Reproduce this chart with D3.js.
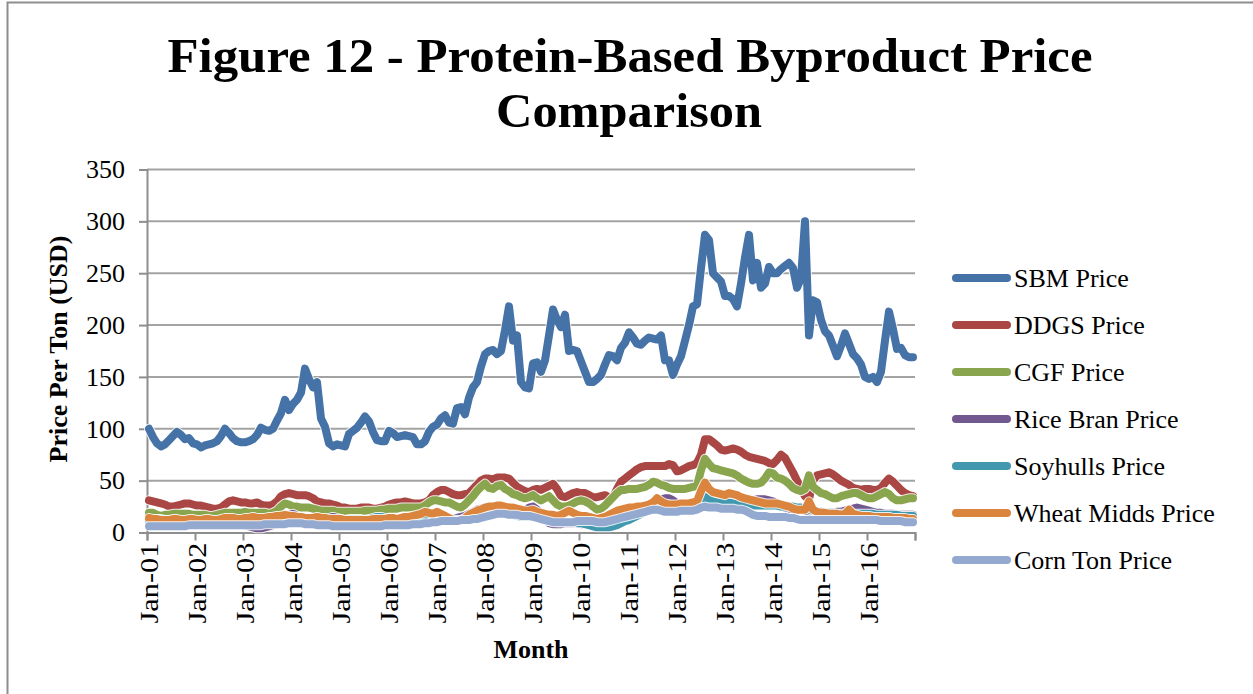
<!DOCTYPE html>
<html>
<head>
<meta charset="utf-8">
<script src="https://cdn.jsdelivr.net/npm/d3@7"></script>
<style>
  body { margin: 0; background: #fff; }
  text { font-family: "Liberation Serif", "Times New Roman", serif; fill: #000; }
</style>
</head>
<body>
<div id="chart"></div>
<script>
const w = 1253;
const h = 694;

// categorias: un mes por punto, ene-2001 a dic-2016
const months = d3.timeMonth.range(new Date(2001, 0, 1), new Date(2017, 0, 1));
const yearLabels = ["Jan-01", "Jan-02", "Jan-03", "Jan-04", "Jan-05", "Jan-06", "Jan-07", "Jan-08",
  "Jan-09", "Jan-10", "Jan-11", "Jan-12", "Jan-13", "Jan-14", "Jan-15", "Jan-16"];
const yTicks = [0, 50, 100, 150, 200, 250, 300, 350];

// series (USD por tonelada)
const sbm = [
  100, 92, 86, 83, 85, 89, 93, 97, 94, 90, 91, 86,
  85, 82, 84, 85, 86, 88, 93, 100, 96, 91, 88, 87,
  87, 88, 90, 94, 101, 99, 98, 100, 108, 115, 128, 118,
  124, 128, 135, 158, 148, 140, 145, 110, 102, 86, 83, 85,
  84, 83, 95, 98, 101, 106, 112, 107, 97, 89, 88, 88,
  98, 96, 92, 93, 94, 93, 92, 85, 85, 88, 97, 102,
  104, 110, 113, 106, 105, 120, 121, 114, 130, 140, 145, 160,
  172, 175, 176, 172, 175, 195, 218, 185, 190, 145, 140, 139,
  163, 164, 155, 166, 190, 215, 205, 198, 210, 175, 176, 175,
  165, 155, 145, 145, 148, 152, 162, 171, 170, 166, 178, 183,
  193, 188, 182, 181, 185, 188, 187, 186, 190, 166, 166, 152,
  162, 170, 185, 200, 218, 220, 255, 287, 282, 250, 246, 242,
  228, 228, 225, 218, 240, 265, 287, 243, 260, 236, 240, 256,
  250, 250, 254, 257, 260, 255, 236, 245, 300, 190, 224, 222,
  205, 194, 190, 180, 170, 180, 192, 182, 172, 168, 162, 150,
  148, 150, 145, 155, 185, 213, 196, 177, 178, 171, 169, 169
];
const ddgs = [
  31, 30, 29, 28, 27, 25, 25, 26, 27, 28, 28, 27,
  26, 26, 25, 24, 23, 23, 24, 27, 30, 31, 30, 29,
  29, 28, 28, 29, 27, 26, 26, 27, 30, 35, 37, 38,
  37, 36, 36, 36, 35, 33, 30, 29, 28, 28, 27, 26,
  24, 24, 23, 23, 23, 24, 24, 24, 23, 23, 24, 25,
  27, 28, 29, 29, 30, 29, 28, 28, 28, 29, 31, 36,
  39, 41, 41, 39, 37, 36, 36, 37, 38, 42, 46, 50,
  52, 52, 51, 53, 53, 53, 52, 48, 44, 42, 40, 39,
  41, 42, 41, 43, 45, 47, 42, 35, 34, 36, 38, 39,
  38, 38, 36, 34, 34, 35, 36, 34, 34, 42, 49, 52,
  55, 58, 61, 63, 64, 64, 64, 64, 64, 64, 66, 65,
  59, 60, 62, 64, 65, 67, 75, 90, 90, 87, 84, 80,
  79, 80, 81, 80, 78, 75, 73, 72, 71, 70, 69, 67,
  66, 70, 75, 72, 65, 58, 50, 43, 35, 32, 50, 55,
  56, 57, 58, 56, 53, 50, 48, 46, 43, 42, 41, 42,
  42, 41, 41, 43, 48, 52, 49, 45, 41, 38, 36, 35
];
const cgf = [
  19, 19, 17, 16, 17, 17, 18, 18, 18, 18, 18, 17,
  17, 17, 17, 16, 16, 17, 18, 19, 19, 19, 19, 19,
  20, 19, 19, 19, 19, 19, 18, 19, 21, 25, 28, 27,
  25, 25, 24, 24, 24, 23, 22, 21, 21, 21, 21, 20,
  20, 20, 20, 20, 20, 20, 21, 21, 21, 21, 22, 22,
  23, 23, 23, 24, 24, 24, 24, 24, 24, 26, 29, 31,
  31, 30, 29, 29, 27, 25, 24, 27, 31, 35, 40, 44,
  47, 43, 42, 45, 46, 42, 40, 37, 36, 34, 33, 34,
  36, 33, 31, 33, 35, 31, 27, 25, 25, 26, 28, 30,
  31, 30, 28, 25, 22, 23, 26, 30, 34, 38, 41, 41,
  42, 42, 42, 43, 44, 46, 49, 48, 46, 45, 43, 42,
  42, 42, 42, 43, 44, 45, 60, 71, 66, 62, 61, 60,
  59, 58, 57, 55, 52, 50, 48, 47, 47, 48, 52, 58,
  57, 53, 52, 50, 47, 43, 41, 40, 42, 55, 44, 41,
  38, 37, 35, 33, 33, 35, 36, 37, 38, 38, 36, 34,
  33, 33, 35, 37, 39, 37, 33, 31, 31, 32, 33, 33
];
const riceBran = [
  11, 11, 10, 10, 10, 10, 10, 10, 10, 10, 10, 9,
  9, 9, 9, 9, 9, 9, 8, 8, 8, 8, 8, 8,
  7, 6, 5, 4, 4, 5, 6, 7, 9, 12, 15, 17,
  18, 16, 14, 12, 11, 11, 11, 12, 13, 14, 15, 14,
  13, 12, 12, 11, 11, 11, 11, 12, 12, 13, 13, 13,
  13, 13, 13, 13, 14, 14, 14, 15, 15, 16, 17, 17,
  17, 16, 15, 14, 14, 14, 15, 16, 18, 20, 22, 23,
  24, 24, 23, 22, 21, 20, 18, 17, 16, 17, 20, 24,
  25, 22, 16, 12, 9, 8, 8, 8, 9, 9, 9, 9,
  8, 8, 7, 7, 6, 6, 6, 6, 6, 7, 9, 11,
  13, 15, 17, 19, 22, 25, 28, 30, 32, 33, 33, 31,
  28, 26, 25, 25, 25, 26, 27, 30, 31, 30, 29, 29,
  29, 30, 31, 31, 30, 30, 30, 31, 32, 32, 32, 31,
  30, 28, 26, 24, 23, 22, 22, 22, 21, 20, 19, 19,
  19, 19, 19, 19, 20, 20, 21, 22, 23, 24, 23, 22,
  21, 20, 19, 19, 18, 18, 18, 17, 17, 17, 17, 17
];
const soyhulls = [
  12, 12, 13, 13, 12, 12, 12, 11, 11, 11, 11, 11,
  11, 11, 11, 11, 10, 10, 10, 10, 10, 10, 10, 10,
  10, 10, 10, 11, 11, 12, 12, 12, 12, 13, 13, 14,
  14, 13, 12, 12, 11, 11, 11, 11, 11, 11, 11, 11,
  12, 12, 13, 13, 13, 13, 12, 13, 14, 15, 15, 14,
  13, 12, 12, 12, 12, 13, 13, 14, 14, 15, 16, 17,
  17, 16, 15, 14, 13, 12, 12, 13, 15, 17, 19, 20,
  21, 22, 22, 21, 20, 19, 18, 17, 16, 15, 15, 15,
  16, 15, 13, 12, 11, 11, 10, 10, 10, 10, 10, 9,
  9, 8, 7, 6, 5, 5, 5, 5, 6, 7, 9, 11,
  12, 14, 16, 18, 20, 22, 24, 26, 27, 27, 27, 26,
  25, 24, 23, 22, 22, 23, 25, 35, 32, 30, 29, 29,
  29, 29, 28, 28, 27, 27, 26, 26, 26, 26, 26, 26,
  26, 26, 25, 25, 25, 25, 24, 24, 23, 22, 21, 20,
  20, 19, 19, 19, 18, 18, 18, 18, 18, 18, 18, 18,
  18, 18, 17, 17, 17, 17, 17, 17, 16, 16, 16, 16
];
const wheatMidds = [
  14, 13, 13, 12, 12, 12, 13, 13, 12, 12, 13, 13,
  12, 12, 13, 13, 12, 12, 13, 14, 14, 14, 13, 13,
  14, 14, 15, 14, 14, 14, 15, 15, 16, 16, 17, 16,
  16, 15, 15, 14, 14, 14, 15, 14, 14, 13, 13, 13,
  13, 12, 12, 12, 12, 12, 12, 12, 13, 13, 13, 13,
  14, 14, 13, 14, 15, 15, 16, 17, 18, 20, 19, 18,
  20, 18, 16, 14, 12, 11, 12, 14, 17, 19, 21, 22,
  24, 25, 25, 26, 26, 25, 24, 24, 23, 22, 21, 21,
  22, 20, 19, 18, 17, 17, 16, 17, 19, 21, 19, 17,
  16, 16, 15, 14, 13, 14, 15, 17, 19, 21, 22, 23,
  24, 24, 25, 25, 26, 27, 29, 33, 30, 28, 27, 27,
  27, 28, 28, 28, 29, 30, 40, 48, 42, 39, 38, 37,
  36, 38, 37, 36, 34, 33, 32, 31, 30, 29, 28, 28,
  28, 28, 27, 26, 25, 23, 22, 22, 22, 30, 22, 20,
  19, 19, 18, 18, 18, 17, 18, 22, 18, 17, 16, 16,
  16, 15, 15, 15, 15, 15, 14, 14, 14, 14, 13, 13
];
const cornTon = [
  6, 6, 6, 6, 6, 6, 6, 6, 6, 6, 7, 7,
  7, 7, 7, 7, 7, 7, 7, 7, 7, 7, 7, 7,
  7, 7, 7, 7, 7, 8, 8, 8, 8, 8, 8, 9,
  9, 9, 9, 8, 8, 8, 7, 7, 7, 7, 6, 6,
  6, 6, 6, 6, 6, 6, 6, 6, 6, 6, 6, 7,
  7, 7, 7, 7, 7, 7, 8, 8, 8, 9, 9, 10,
  10, 11, 11, 11, 11, 11, 12, 12, 12, 13, 13, 14,
  15, 16, 17, 18, 18, 18, 17, 17, 17, 16, 16, 16,
  15, 14, 13, 12, 11, 10, 10, 10, 10, 10, 10, 11,
  11, 11, 11, 11, 10, 10, 10, 11, 12, 13, 14, 15,
  16, 17, 18, 19, 20, 21, 22, 22, 21, 20, 20, 20,
  20, 21, 21, 21, 21, 22, 24, 25, 24, 24, 24, 23,
  23, 23, 23, 22, 22, 21, 19, 17, 16, 16, 16, 15,
  15, 15, 15, 15, 14, 14, 13, 12, 12, 12, 12, 12,
  12, 12, 12, 12, 12, 12, 12, 12, 12, 12, 12, 12,
  12, 12, 12, 11, 11, 11, 11, 11, 11, 10, 10, 10
];

const seriesNames = ["SBM Price", "DDGS Price", "CGF Price", "Rice Bran Price",
  "Soyhulls Price", "Wheat Midds Price", "Corn Ton Price"];
const seriesValues = [sbm, ddgs, cgf, riceBran, soyhulls, wheatMidds, cornTon];
const colors = ["#4572A7", "#AA4643", "#89A54E", "#71588F", "#4198AF", "#DB843D", "#93A9CF"];

// Escalas
const xScale = d3.scaleLinear().domain([0, months.length]).range([147, 915]);
const yScale = d3.scaleLinear().domain([0, 350]).range([532.5, 169.5]);

const svg = d3.select("#chart").append("svg").attr("width", w).attr("height", h);

// marco del grafico
svg.append("rect")
  .attr("x", 7.5).attr("y", 2.5)
  .attr("width", 1400).attr("height", 900)
  .attr("fill", "none").attr("stroke", "#8e8e8e").attr("stroke-width", 2);

// Titulo
const title = svg.append("g").style("font-weight", "bold").style("font-size", "49px");
title.append("text").attr("x", 630).attr("y", 72).attr("text-anchor", "middle")
  .attr("textLength", 925).attr("lengthAdjust", "spacingAndGlyphs")
  .text("Figure 12 - Protein-Based Byproduct Price");
title.append("text").attr("x", 629).attr("y", 127).attr("text-anchor", "middle")
  .attr("textLength", 266).attr("lengthAdjust", "spacingAndGlyphs")
  .text("Comparison");

// Rejilla
svg.append("g")
  .selectAll("line")
  .data(yTicks.slice(1))
  .enter()
  .append("line")
  .attr("x1", xScale(0)).attr("x2", xScale(months.length))
  .attr("y1", (d) => yScale(d)).attr("y2", (d) => yScale(d))
  .attr("stroke", "#a3a3a3").attr("stroke-width", 2);

// Ejes
const yAxis = d3.axisLeft(yScale).tickValues(yTicks).tickSize(8).tickPadding(14);
const gy = svg.append("g").attr("id", "y-axis").attr("transform", `translate(${xScale(0)},0)`).call(yAxis);
gy.select(".domain").attr("stroke", "#8e8e8e").attr("stroke-width", 2);
gy.selectAll(".tick line").attr("stroke", "#8e8e8e").attr("stroke-width", 2);
gy.selectAll(".tick text").style("font-family", "Liberation Serif").style("font-size", "26px");

const xAxis = d3.axisBottom(xScale).tickValues(d3.range(0, months.length + 1, 12)).tickSize(8).tickFormat("");
const gx = svg.append("g").attr("id", "x-axis").attr("transform", `translate(0, ${yScale(0)})`).call(xAxis);
gx.select(".domain").attr("stroke", "#8e8e8e").attr("stroke-width", 2);
gx.selectAll(".tick line").attr("stroke", "#8e8e8e").attr("stroke-width", 2);

svg.append("g")
  .selectAll("text")
  .data(yearLabels)
  .enter()
  .append("text")
  .attr("transform", (d, i) => `translate(${xScale(i * 12 + 0.5) + 9},${yScale(0) + 10}) rotate(-90)`)
  .attr("text-anchor", "end")
  .attr("textLength", 81).attr("lengthAdjust", "spacingAndGlyphs")
  .style("font-size", "26px")
  .text((d) => d);

// Titulos de ejes
svg.append("text")
  .attr("x", 531).attr("y", 658)
  .attr("text-anchor", "middle")
  .style("font-size", "26px").style("font-weight", "bold")
  .text("Month");

svg.append("text")
  .attr("transform", `translate(67,349) rotate(-90)`)
  .attr("text-anchor", "middle")
  .style("font-size", "26px").style("font-weight", "bold")
  .text("Price Per Ton (USD)");

// Lineas
const line = d3.line()
  .x((d, i) => xScale(i + 0.5))
  .y((d) => yScale(d));

const plot = svg.append("g");
seriesValues.forEach((vals, k) => {
  plot.append("path")
    .datum(vals)
    .attr("d", line)
    .attr("fill", "none")
    .attr("stroke", "#fff").attr("stroke-opacity", 0.85)
    .attr("stroke-width", 10)
    .attr("stroke-linejoin", "round").attr("stroke-linecap", "round");
  plot.append("path")
    .datum(vals)
    .attr("d", line)
    .attr("fill", "none")
    .attr("stroke", colors[k])
    .attr("stroke-width", 8)
    .attr("stroke-linejoin", "round").attr("stroke-linecap", "round");
});

// Leyenda
const legend = svg.append("g")
  .selectAll("g")
  .data(seriesNames)
  .enter()
  .append("g")
  .attr("transform", (d, i) => `translate(953, ${278 + i * 47})`);

legend.append("line")
  .attr("x1", 3).attr("x2", 54)
  .attr("stroke", (d, i) => colors[i])
  .attr("stroke-width", 8).attr("stroke-linecap", "round");

legend.append("text")
  .attr("x", 61).attr("dy", "0.33em")
  .style("font-size", "26px")
  .text((d) => d);
</script>
</body>
</html>
